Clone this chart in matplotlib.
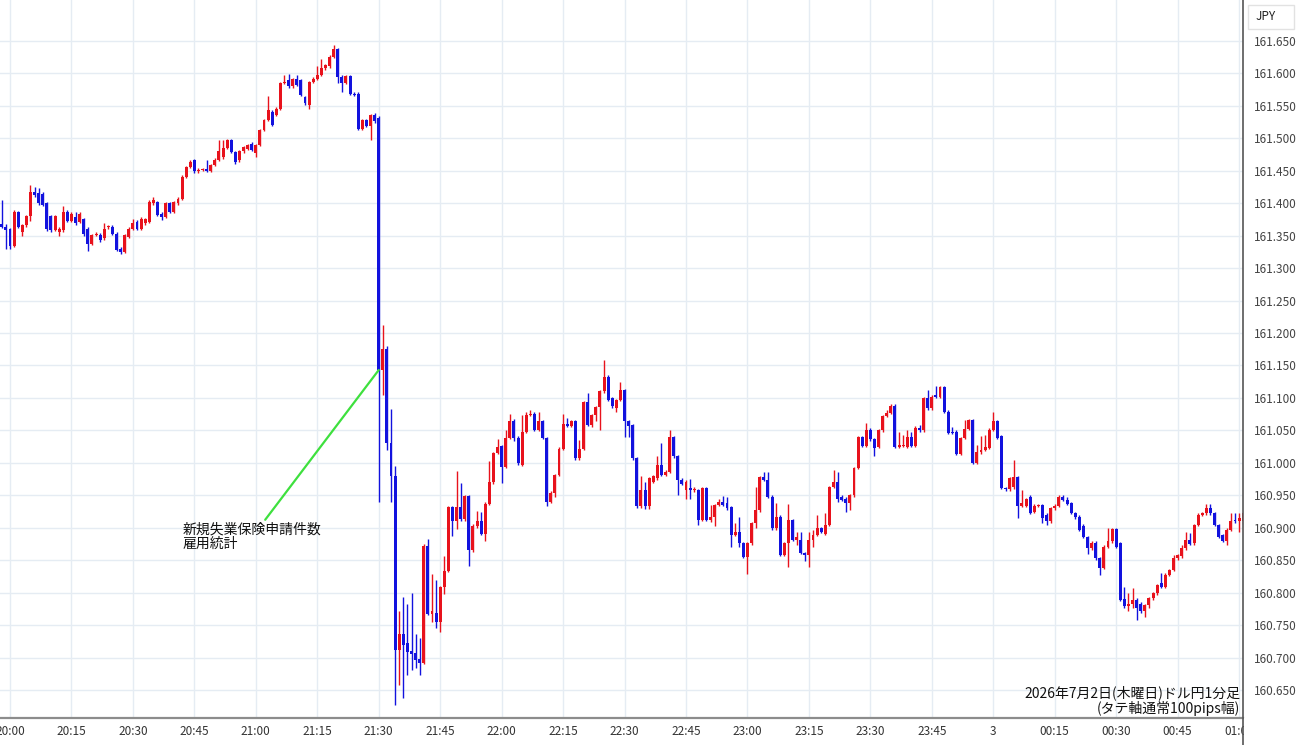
import numpy as np
import matplotlib
matplotlib.use('Agg')
import matplotlib.pyplot as plt
from matplotlib.lines import Line2D
from matplotlib.patches import Rectangle

plt.rcParams['font.family'] = ['Noto Sans CJK JP', 'DejaVu Sans']

# USD/JPY 1-minute candles, first candle = 19:58
first_minute = -2  # minutes after 20:00

opens = [
    161.368, 161.364, 161.360, 161.334, 161.386, 161.355, 161.366, 161.380, 161.418, 161.416,
    161.415, 161.400, 161.380, 161.359, 161.355, 161.359, 161.387, 161.373, 161.379, 161.371,
    161.375, 161.361, 161.337, 161.351, 161.351, 161.346, 161.363, 161.364, 161.353, 161.330,
    161.325, 161.348, 161.361, 161.371, 161.361, 161.369, 161.371, 161.400, 161.402, 161.384,
    161.379, 161.400, 161.387, 161.400, 161.407, 161.441, 161.456, 161.466, 161.449, 161.451,
    161.453, 161.450, 161.459, 161.467, 161.472, 161.485, 161.497, 161.479, 161.466, 161.480,
    161.484, 161.492, 161.477, 161.490, 161.513, 161.528, 161.541, 161.536, 161.546, 161.585,
    161.590, 161.580, 161.592, 161.590, 161.564, 161.551, 161.587, 161.592, 161.598, 161.608,
    161.611, 161.626, 161.637, 161.595, 161.585, 161.596, 161.569, 161.569, 161.515, 161.528,
    161.519, 161.536, 161.531, 161.143, 161.175, 161.031, 160.980, 160.712, 160.736, 160.722,
    160.710, 160.707, 160.697, 160.692, 160.872, 160.767, 160.769, 160.754, 160.808, 160.834,
    160.932, 160.911, 160.932, 160.913, 160.949, 160.865, 160.903, 160.911, 160.891, 160.937,
    160.970, 161.015, 161.026, 160.994, 161.038, 161.065, 161.039, 160.997, 161.048, 161.074,
    161.076, 161.051, 161.064, 161.038, 160.940, 160.953, 160.981, 161.022, 161.060, 161.057,
    161.064, 161.007, 161.022, 161.094, 161.058, 161.074, 161.086, 161.110, 161.133, 161.100,
    161.084, 161.097, 161.112, 161.064, 161.058, 161.007, 160.933, 160.958, 160.933, 160.971,
    160.976, 160.997, 160.981, 160.986, 161.040, 161.010, 160.974, 160.958, 160.961, 160.958,
    160.958, 160.912, 160.961, 160.912, 160.917, 160.935, 160.940, 160.938, 160.932, 160.889,
    160.894, 160.876, 160.855, 160.876, 160.907, 160.927, 160.978, 160.974, 160.948, 160.899,
    160.917, 160.858, 160.876, 160.912, 160.881, 160.881, 160.861, 160.858, 160.881, 160.889,
    160.899, 160.891, 160.904, 160.963, 160.971, 160.948, 160.945, 160.938, 160.950, 160.992,
    161.040, 161.026, 161.051, 161.037, 161.025, 161.050, 161.072, 161.077, 161.088, 161.025,
    161.026, 161.025, 161.040, 161.026, 161.054, 161.050, 161.100, 161.084, 161.105, 161.102,
    161.117, 161.079, 161.048, 161.048, 161.014, 161.038, 161.052, 161.066, 161.000, 161.016,
    161.020, 161.023, 161.051, 161.064, 161.041, 160.961, 160.959, 160.962, 160.978, 160.934,
    160.934, 160.948, 160.925, 160.934, 160.935, 160.920, 160.910, 160.930, 160.934, 160.948,
    160.943, 160.938, 160.923, 160.917, 160.903, 160.886, 160.868, 160.877, 160.853, 160.838,
    160.871, 160.879, 160.898, 160.876, 160.790, 160.779, 160.783, 160.789, 160.783, 160.771,
    160.781, 160.791, 160.799, 160.815, 160.809, 160.827, 160.835, 160.853, 160.856, 160.868,
    160.881, 160.876, 160.904, 160.920, 160.922, 160.930, 160.922, 160.904, 160.889, 160.880,
    160.897, 160.911, 160.910, 160.910,
]

highs = [
    161.405, 161.368, 161.362, 161.390, 161.388, 161.368, 161.382, 161.428, 161.425, 161.424,
    161.418, 161.402, 161.382, 161.382, 161.363, 161.396, 161.389, 161.386, 161.386, 161.386,
    161.378, 161.363, 161.353, 161.356, 161.354, 161.370, 161.367, 161.366, 161.355, 161.332,
    161.353, 161.363, 161.376, 161.374, 161.379, 161.378, 161.405, 161.409, 161.404, 161.386,
    161.402, 161.402, 161.404, 161.409, 161.443, 161.458, 161.467, 161.468, 161.454, 161.454,
    161.466, 161.461, 161.469, 161.497, 161.497, 161.499, 161.499, 161.481, 161.482, 161.488,
    161.492, 161.495, 161.492, 161.515, 161.530, 161.566, 161.543, 161.548, 161.587, 161.598,
    161.599, 161.593, 161.598, 161.592, 161.566, 161.589, 161.594, 161.611, 161.623, 161.615,
    161.628, 161.644, 161.639, 161.597, 161.598, 161.598, 161.572, 161.571, 161.530, 161.530,
    161.538, 161.539, 161.535, 161.212, 161.180, 161.083, 160.995, 160.771, 160.794, 160.783,
    160.800, 160.737, 160.730, 160.875, 160.882, 160.829, 160.819, 160.810, 160.857, 160.934,
    160.934, 160.988, 160.969, 160.951, 160.951, 160.905, 160.926, 160.925, 160.940, 161.003,
    161.017, 161.036, 161.028, 161.050, 161.076, 161.067, 161.041, 161.074, 161.079, 161.081,
    161.078, 161.079, 161.066, 161.040, 160.956, 160.983, 161.024, 161.076, 161.069, 161.066,
    161.066, 161.035, 161.096, 161.107, 161.076, 161.088, 161.112, 161.159, 161.135, 161.102,
    161.099, 161.125, 161.114, 161.066, 161.060, 161.009, 160.979, 160.971, 160.978, 160.981,
    161.010, 161.030, 160.989, 161.050, 161.042, 161.012, 160.976, 160.973, 160.975, 160.962,
    160.960, 160.963, 160.963, 160.935, 160.937, 160.944, 160.949, 160.947, 160.934, 160.908,
    160.916, 160.878, 160.878, 160.909, 160.963, 160.980, 160.986, 160.986, 160.950, 160.938,
    160.919, 160.878, 160.937, 160.914, 160.894, 160.894, 160.863, 160.894, 160.897, 160.920,
    160.901, 160.922, 160.965, 160.989, 160.986, 160.950, 160.947, 160.952, 160.994, 161.042,
    161.041, 161.061, 161.054, 161.039, 161.052, 161.074, 161.082, 161.091, 161.090, 161.047,
    161.043, 161.051, 161.048, 161.056, 161.059, 161.102, 161.113, 161.105, 161.118, 161.119,
    161.119, 161.081, 161.055, 161.050, 161.040, 161.066, 161.068, 161.068, 161.028, 161.041,
    161.043, 161.053, 161.079, 161.066, 161.043, 160.963, 160.978, 161.005, 160.980, 160.958,
    160.946, 160.950, 160.936, 160.937, 160.937, 160.922, 160.932, 160.936, 160.951, 160.951,
    160.948, 160.940, 160.925, 160.919, 160.905, 160.888, 160.879, 160.879, 160.855, 160.873,
    160.899, 160.899, 160.899, 160.878, 160.809, 160.799, 160.807, 160.791, 160.785, 160.783,
    160.793, 160.801, 160.814, 160.830, 160.830, 160.837, 160.858, 160.860, 160.874, 160.894,
    160.892, 160.906, 160.922, 160.924, 160.937, 160.937, 160.924, 160.906, 160.891, 160.899,
    160.923, 160.922, 160.922, 160.924,
]

lows = [
    161.362, 161.330, 161.330, 161.332, 161.362, 161.350, 161.364, 161.373, 161.410, 161.398,
    161.396, 161.358, 161.356, 161.357, 161.350, 161.356, 161.371, 161.371, 161.366, 161.369,
    161.350, 161.326, 161.335, 161.349, 161.340, 161.344, 161.361, 161.351, 161.326, 161.322,
    161.323, 161.346, 161.359, 161.359, 161.359, 161.367, 161.369, 161.398, 161.380, 161.374,
    161.377, 161.385, 161.385, 161.398, 161.405, 161.439, 161.454, 161.447, 161.447, 161.449,
    161.448, 161.448, 161.457, 161.465, 161.468, 161.483, 161.477, 161.461, 161.464, 161.478,
    161.482, 161.480, 161.472, 161.488, 161.511, 161.526, 161.519, 161.534, 161.544, 161.583,
    161.578, 161.578, 161.580, 161.565, 161.551, 161.545, 161.585, 161.590, 161.596, 161.606,
    161.609, 161.624, 161.585, 161.572, 161.583, 161.567, 161.565, 161.513, 161.513, 161.517,
    161.497, 161.524, 160.940, 161.105, 161.020, 160.940, 160.627, 160.658, 160.637, 160.673,
    160.681, 160.684, 160.673, 160.690, 160.765, 160.755, 160.745, 160.740, 160.798, 160.832,
    160.887, 160.898, 160.910, 160.911, 160.841, 160.862, 160.900, 160.889, 160.880, 160.935,
    160.968, 161.013, 160.969, 160.992, 161.036, 161.034, 160.996, 160.995, 161.046, 161.072,
    161.049, 161.049, 161.036, 160.933, 160.938, 160.948, 160.979, 161.020, 161.055, 161.055,
    161.005, 161.005, 161.020, 161.056, 161.055, 161.064, 161.051, 161.108, 161.095, 161.085,
    161.079, 161.095, 161.040, 161.040, 161.005, 160.931, 160.931, 160.929, 160.929, 160.969,
    160.974, 160.979, 160.979, 160.984, 161.008, 160.951, 160.966, 160.945, 160.945, 160.955,
    160.904, 160.910, 160.910, 160.909, 160.903, 160.933, 160.933, 160.928, 160.871, 160.887,
    160.871, 160.853, 160.829, 160.874, 160.899, 160.925, 160.972, 160.946, 160.897, 160.897,
    160.856, 160.856, 160.840, 160.879, 160.873, 160.859, 160.848, 160.840, 160.871, 160.887,
    160.892, 160.889, 160.902, 160.961, 160.940, 160.941, 160.925, 160.927, 160.948, 160.990,
    161.024, 161.024, 161.034, 161.011, 161.023, 161.048, 161.070, 161.075, 161.023, 161.023,
    161.024, 161.023, 161.024, 161.024, 161.048, 161.048, 161.082, 161.082, 161.100, 161.100,
    161.077, 161.044, 161.044, 161.012, 161.012, 161.036, 161.050, 160.998, 160.998, 161.014,
    161.018, 161.021, 161.049, 161.036, 160.959, 160.957, 160.957, 160.960, 160.915, 160.932,
    160.932, 160.921, 160.923, 160.932, 160.907, 160.904, 160.908, 160.928, 160.932, 160.941,
    160.935, 160.921, 160.914, 160.895, 160.884, 160.860, 160.866, 160.851, 160.827, 160.836,
    160.869, 160.877, 160.869, 160.787, 160.777, 160.771, 160.776, 160.758, 160.769, 160.763,
    160.776, 160.789, 160.797, 160.807, 160.807, 160.825, 160.833, 160.851, 160.854, 160.866,
    160.873, 160.874, 160.902, 160.918, 160.920, 160.920, 160.902, 160.884, 160.878, 160.874,
    160.895, 160.908, 160.894, 160.905,
]

closes = [
    161.364, 161.359, 161.334, 161.387, 161.363, 161.366, 161.380, 161.418, 161.413, 161.400,
    161.398, 161.361, 161.359, 161.380, 161.361, 161.387, 161.373, 161.384, 161.369, 161.384,
    161.353, 161.337, 161.351, 161.353, 161.343, 161.361, 161.365, 161.353, 161.328, 161.325,
    161.351, 161.361, 161.369, 161.361, 161.376, 161.376, 161.402, 161.405, 161.382, 161.379,
    161.400, 161.387, 161.402, 161.407, 161.441, 161.456, 161.464, 161.449, 161.452, 161.452,
    161.450, 161.459, 161.467, 161.480, 161.485, 161.497, 161.479, 161.464, 161.480, 161.486,
    161.490, 161.482, 161.490, 161.513, 161.528, 161.544, 161.521, 161.546, 161.585, 161.587,
    161.580, 161.591, 161.582, 161.567, 161.554, 161.587, 161.592, 161.598, 161.608, 161.613,
    161.626, 161.637, 161.595, 161.585, 161.596, 161.569, 161.567, 161.515, 161.528, 161.519,
    161.536, 161.526, 161.143, 161.175, 161.031, 160.980, 160.712, 160.736, 160.720, 160.709,
    160.706, 160.696, 160.692, 160.872, 160.767, 160.771, 160.754, 160.808, 160.834, 160.932,
    160.911, 160.932, 160.913, 160.949, 160.865, 160.903, 160.911, 160.891, 160.937, 160.970,
    161.015, 161.025, 160.994, 161.038, 161.064, 161.039, 160.999, 161.048, 161.074, 161.076,
    161.051, 161.064, 161.038, 160.940, 160.953, 160.981, 161.022, 161.060, 161.057, 161.064,
    161.007, 161.022, 161.094, 161.058, 161.074, 161.086, 161.110, 161.133, 161.097, 161.087,
    161.097, 161.112, 161.064, 161.056, 161.007, 160.933, 160.958, 160.933, 160.976, 160.979,
    160.997, 160.981, 160.986, 161.040, 161.010, 160.974, 160.968, 160.971, 160.958, 160.959,
    160.912, 160.961, 160.912, 160.917, 160.935, 160.940, 160.935, 160.930, 160.889, 160.894,
    160.876, 160.855, 160.876, 160.907, 160.927, 160.978, 160.974, 160.948, 160.899, 160.917,
    160.858, 160.876, 160.912, 160.881, 160.886, 160.861, 160.858, 160.881, 160.889, 160.899,
    160.894, 160.904, 160.963, 160.971, 160.945, 160.943, 160.938, 160.950, 160.992, 161.040,
    161.026, 161.051, 161.036, 161.023, 161.050, 161.072, 161.077, 161.088, 161.025, 161.028,
    161.028, 161.040, 161.026, 161.054, 161.050, 161.100, 161.084, 161.102, 161.102, 161.117,
    161.079, 161.046, 161.046, 161.014, 161.038, 161.052, 161.066, 161.000, 161.016, 161.020,
    161.025, 161.051, 161.064, 161.038, 160.961, 160.959, 160.976, 160.978, 160.933, 160.938,
    160.944, 160.923, 160.934, 160.935, 160.915, 160.910, 160.930, 160.934, 160.948, 160.943,
    160.937, 160.923, 160.916, 160.897, 160.886, 160.868, 160.877, 160.853, 160.838, 160.871,
    160.879, 160.898, 160.871, 160.789, 160.779, 160.783, 160.788, 160.776, 160.771, 160.781,
    160.791, 160.799, 160.812, 160.809, 160.827, 160.835, 160.853, 160.858, 160.868, 160.881,
    160.875, 160.904, 160.920, 160.922, 160.930, 160.922, 160.904, 160.886, 160.880, 160.897,
    160.911, 160.910, 160.915, 160.922,
]

time_labels = ['20:00', '20:15', '20:30', '20:45', '21:00', '21:15', '21:30', '21:45',
               '22:00', '22:15', '22:30', '22:45', '23:00', '23:15', '23:30', '23:45',
               '3', '00:15', '00:30', '00:45', '01:00']
price_ticks = [160.65, 160.70, 160.75, 160.80, 160.85, 160.90, 160.95, 161.00, 161.05, 161.10,
               161.15, 161.20, 161.25, 161.30, 161.35, 161.40, 161.45, 161.50, 161.55, 161.60, 161.65]

event_time = 90  # 21:30 release
event_text = '新規失業保険申請件数\n雇用統計'

RED = '#e8121c'
BLUE = '#1212de'

o = np.array(opens)
h = np.array(highs)
l = np.array(lows)
c = np.array(closes)
minutes = np.arange(first_minute, first_minute + len(c))
colors = np.where(c >= o, RED, BLUE)
body_low = np.minimum(o, c)
body_h = np.maximum(np.abs(c - o), 0.0013)

W, H = 1300, 745
fig = plt.figure(figsize=(W / 100, H / 100), dpi=100)
ax = fig.add_axes([0, 27 / H, 1243 / W, 718 / H])

ax.set_xlim(-2.44, 300.95)
ax.set_ylim(160.6068, 161.7132)

ax.set_xticks(np.arange(0, 301, 15))
ax.set_xticklabels(time_labels)
ax.yaxis.tick_right()
ax.set_yticks(price_ticks)
ax.set_yticklabels([f'{v:.3f}' for v in price_ticks])
ax.tick_params(axis='x', length=0, pad=5, labelsize=8.5, labelcolor='#333333')
ax.tick_params(axis='y', length=0, pad=8, labelsize=8.5, labelcolor='#444444')
ax.grid(True, color='#e5ecf3', lw=1)
ax.set_axisbelow(True)

for s in ['top', 'left', 'right']:
    ax.spines[s].set_visible(False)
ax.spines['bottom'].set_color('#8c8c8c')
ax.spines['bottom'].set_linewidth(1.6)

# candles
ax.vlines(minutes, l, h, colors=colors, lw=1.0, zorder=2)
ax.bar(minutes, body_h, bottom=body_low, width=0.72, color=colors, linewidth=0, zorder=3)

# event annotation
idx = list(minutes).index(event_time)
ax.annotate(event_text, xy=(minutes[idx], c[idx]), xytext=(42.2, 160.886),
            ha='left', va='center', fontsize=10, linespacing=1.05, color='#111111',
            arrowprops=dict(arrowstyle='-', color='#3ee03e', lw=1.6,
                            shrinkA=0, shrinkB=0), zorder=5)

fig.text(1240 / W, 1 - 693 / H, '2026年7月2日(木曜日)ドル円1分足',
         ha='right', va='center', fontsize=10, color='#111111')
fig.text(1240 / W, 1 - 709 / H, '(タテ軸通常100pips幅)',
         ha='right', va='center', fontsize=10, color='#111111')

# right price panel: hide overflow of last time label, border line, currency box
fig.add_artist(Rectangle((1244 / W, 0), 56 / W, 27 / H, transform=fig.transFigure,
                         facecolor='white', edgecolor='none', zorder=5))
fig.add_artist(Line2D([1243 / W, 1243 / W], [0, 1], transform=fig.transFigure,
                      color='#555555', lw=1.2, zorder=6))
fig.add_artist(Rectangle((1248 / W, 1 - 29 / H), 46 / W, 24 / H, transform=fig.transFigure,
                         facecolor='white', edgecolor='#e2e2e2', lw=1, zorder=5))
fig.text(1266 / W, 1 - 17 / H, 'JPY', ha='center', va='center', fontsize=8.5,
         color='#222222', zorder=7)

fig.savefig('out.png', dpi=100)
